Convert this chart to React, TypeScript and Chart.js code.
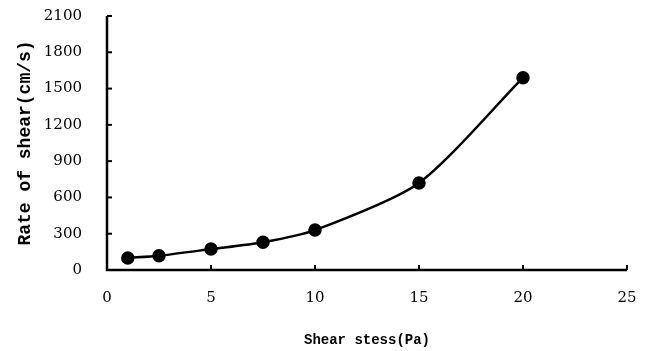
import React, { useEffect, useRef } from "react";
import { Chart, registerables } from "chart.js";

Chart.register(...registerables);

const shearStress = [1, 2.5, 5, 7.5, 10, 15, 20];
const rateOfShear = [100, 118, 173, 230, 330, 720, 1590];
const xTicks = [0, 5, 10, 15, 20, 25];
const yTicks = [0, 300, 600, 900, 1200, 1500, 1800, 2100];

const FONT = "'DejaVu Serif', 'Liberation Serif', serif";
const TITLE_FONT = "'Liberation Mono', 'DejaVu Sans Mono', monospace";

const inwardTicks = {
  id: "inwardTicks",
  afterDraw(chart: any) {
    const ctx = chart.ctx;
    const x = chart.scales.x;
    const y = chart.scales.y;
    const area = chart.chartArea;
    ctx.save();
    ctx.strokeStyle = "#000";
    ctx.lineWidth = 2.5;
    ctx.beginPath();
    ctx.moveTo(area.left, area.top);
    ctx.lineTo(area.left, area.bottom);
    ctx.lineTo(area.right, area.bottom);
    ctx.stroke();
    ctx.lineWidth = 2;
    for (const v of xTicks) {
      const px = x.getPixelForValue(v);
      ctx.beginPath();
      ctx.moveTo(px, area.bottom);
      ctx.lineTo(px, area.bottom - 5);
      ctx.stroke();
    }
    for (const v of yTicks) {
      const py = y.getPixelForValue(v);
      ctx.beginPath();
      ctx.moveTo(area.left, py);
      ctx.lineTo(area.left + 5, py);
      ctx.stroke();
    }
    ctx.restore();
  },
};

export default function App() {
  const ref = useRef<HTMLCanvasElement>(null);
  useEffect(() => {
    document.body.style.margin = "0";
    const chart = new Chart(ref.current!, {
      type: "line",
      data: {
        datasets: [
          {
            data: shearStress.map((s, i) => ({ x: s, y: rateOfShear[i] })),
            borderColor: "#000",
            backgroundColor: "#000",
            borderWidth: 2.5,
            pointRadius: 5.5,
            pointHoverRadius: 5.5,
            tension: 0.25,
            fill: false,
          },
        ],
      },
      options: {
        animation: false,
        responsive: false,
        events: [],
        layout: { padding: { top: 16, right: 21, left: 0, bottom: 0 } },
        plugins: { legend: { display: false }, tooltip: { enabled: false } },
        scales: {
          x: {
            type: "linear",
            min: 0,
            max: 25,
            afterBuildTicks: (s: any) => {
              s.ticks = xTicks.map((v) => ({ value: v }));
            },
            afterFit: (s: any) => {
              s.height = 81;
              s.paddingLeft = 0;
              s.paddingRight = 0;
            },
            grid: { display: false, drawTicks: false },
            border: { display: false },
            ticks: {
              color: "#000",
              font: { family: FONT, size: 15 },
              padding: 19,
              maxRotation: 0,
              callback: (v: any) => String(v),
            },
            title: {
              display: true,
              text: "Shear stess(Pa)",
              color: "#000",
              font: { family: TITLE_FONT, size: 14, weight: "bold" },
              padding: { top: 0, bottom: 2 },
            },
          },
          y: {
            type: "linear",
            min: 0,
            max: 2100,
            afterBuildTicks: (s: any) => {
              s.ticks = yTicks.map((v) => ({ value: v }));
            },
            afterFit: (s: any) => {
              s.width = 107;
              s.paddingTop = 0;
              s.paddingBottom = 0;
            },
            grid: { display: false, drawTicks: false },
            border: { display: false },
            ticks: {
              color: "#000",
              font: { family: FONT, size: 15 },
              padding: 25,
              callback: (v: any) => String(v),
            },
            title: {
              display: true,
              text: "Rate of shear(cm/s)",
              color: "#000",
              font: { family: TITLE_FONT, size: 18, weight: "bold" },
              padding: { top: 15, bottom: 0 },
            },
          },
        },
      },
      plugins: [inwardTicks],
    });
    return () => chart.destroy();
  }, []);
  return <canvas ref={ref} width={648} height={351} style={{ display: "block" }} />;
}
